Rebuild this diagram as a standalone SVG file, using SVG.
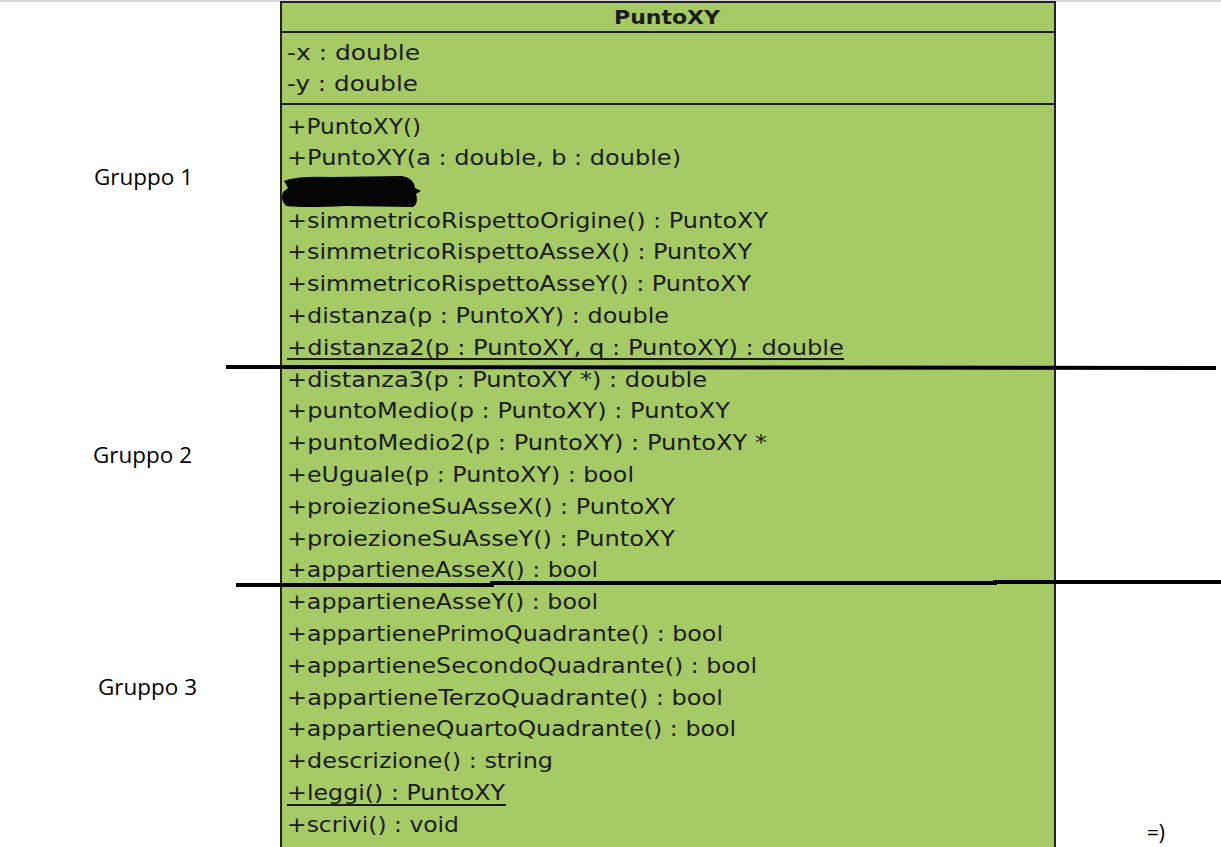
<svg xmlns="http://www.w3.org/2000/svg" width="1221" height="847" viewBox="0 0 1221 847">
<style>
.m{font-family:"DejaVu Sans","Liberation Sans",sans-serif;font-size:21.5px;fill:#1c1c1c}
.h{font-family:"DejaVu Sans","Liberation Sans",sans-serif;font-size:20px;font-weight:bold;fill:#1c1c1c}
.g{font-family:"Open Sans","Noto Sans","Liberation Sans",sans-serif;font-size:21px;fill:#000}
.sep{stroke:#1e1e1e;stroke-width:2}
.ul{stroke:#1c1c1c;stroke-width:2}
.div{stroke:#000;stroke-width:4;fill:none}
</style>
<rect x="0" y="0" width="1221" height="847" fill="#ffffff"/>
<rect x="0" y="0" width="1221" height="2" fill="#d8d8d8"/>
<g id="PuntoXY">
<rect x="281" y="2" width="774" height="850" fill="#a5ca66" stroke="#222" stroke-width="2"/>
<line class="sep" x1="281" y1="32" x2="1055" y2="32"/>
<line class="sep" x1="281" y1="104" x2="1055" y2="104"/>
<text class="h" x="667" y="24" text-anchor="middle" textLength="106" lengthAdjust="spacingAndGlyphs">PuntoXY</text>
<text class="m" x="287" y="60" textLength="133" lengthAdjust="spacingAndGlyphs">-x : double</text>
<text class="m" x="287" y="91" textLength="131" lengthAdjust="spacingAndGlyphs">-y : double</text>
<text class="m" x="287" y="134" textLength="134" lengthAdjust="spacingAndGlyphs">+PuntoXY()</text>
<text class="m" x="287" y="165" textLength="394" lengthAdjust="spacingAndGlyphs">+PuntoXY(a : double, b : double)</text>
<path d="M284,181 Q296,176 330,177 L402,176 Q414,178 415,188 L421,191 L416,194 Q419,203 413,207 L345,206 Q305,208 286,206 Q280,200 283,192 L288,188 Z" fill="#050505"/>
<text class="m" x="287" y="228" textLength="481" lengthAdjust="spacingAndGlyphs">+simmetricoRispettoOrigine() : PuntoXY</text>
<text class="m" x="287" y="259" textLength="465" lengthAdjust="spacingAndGlyphs">+simmetricoRispettoAsseX() : PuntoXY</text>
<text class="m" x="287" y="291" textLength="464" lengthAdjust="spacingAndGlyphs">+simmetricoRispettoAsseY() : PuntoXY</text>
<text class="m" x="287" y="323" textLength="382" lengthAdjust="spacingAndGlyphs">+distanza(p : PuntoXY) : double</text>
<text class="m" x="287" y="355" textLength="557" lengthAdjust="spacingAndGlyphs">+distanza2(p : PuntoXY, q : PuntoXY) : double</text>
<line class="ul" x1="287" y1="359" x2="844" y2="359"/>
<text class="m" x="287" y="387" textLength="420" lengthAdjust="spacingAndGlyphs">+distanza3(p : PuntoXY *) : double</text>
<text class="m" x="287" y="418" textLength="443" lengthAdjust="spacingAndGlyphs">+puntoMedio(p : PuntoXY) : PuntoXY</text>
<text class="m" x="287" y="450" textLength="480" lengthAdjust="spacingAndGlyphs">+puntoMedio2(p : PuntoXY) : PuntoXY *</text>
<text class="m" x="287" y="482" textLength="347" lengthAdjust="spacingAndGlyphs">+eUguale(p : PuntoXY) : bool</text>
<text class="m" x="287" y="514" textLength="388" lengthAdjust="spacingAndGlyphs">+proiezioneSuAsseX() : PuntoXY</text>
<text class="m" x="287" y="546" textLength="388" lengthAdjust="spacingAndGlyphs">+proiezioneSuAsseY() : PuntoXY</text>
<text class="m" x="287" y="577" textLength="311" lengthAdjust="spacingAndGlyphs">+appartieneAsseX() : bool</text>
<text class="m" x="287" y="609" textLength="311" lengthAdjust="spacingAndGlyphs">+appartieneAsseY() : bool</text>
<text class="m" x="287" y="641" textLength="436" lengthAdjust="spacingAndGlyphs">+appartienePrimoQuadrante() : bool</text>
<text class="m" x="287" y="673" textLength="470" lengthAdjust="spacingAndGlyphs">+appartieneSecondoQuadrante() : bool</text>
<text class="m" x="287" y="705" textLength="436" lengthAdjust="spacingAndGlyphs">+appartieneTerzoQuadrante() : bool</text>
<text class="m" x="287" y="736" textLength="449" lengthAdjust="spacingAndGlyphs">+appartieneQuartoQuadrante() : bool</text>
<text class="m" x="287" y="768" textLength="266" lengthAdjust="spacingAndGlyphs">+descrizione() : string</text>
<text class="m" x="287" y="800" textLength="218" lengthAdjust="spacingAndGlyphs">+leggi() : PuntoXY</text>
<line class="ul" x1="287" y1="805" x2="506" y2="805"/>
<text class="m" x="287" y="832" textLength="172" lengthAdjust="spacingAndGlyphs">+scrivi() : void</text>
</g>
<g id="labels">
<text class="g" x="94" y="185" textLength="99" lengthAdjust="spacingAndGlyphs">Gruppo 1</text>
<text class="g" x="93" y="463" textLength="99" lengthAdjust="spacingAndGlyphs">Gruppo 2</text>
<text class="g" x="98" y="695" textLength="99" lengthAdjust="spacingAndGlyphs">Gruppo 3</text>
<text class="g" x="1147" y="840" textLength="18" lengthAdjust="spacingAndGlyphs">=)</text>
</g>
<g id="connectors">
<line class="div" x1="226" y1="367" x2="1216" y2="368"/>
<polyline class="div" points="236,585 492,585 492,583 995,583 995,582 1221,582"/>
</g>
</svg>
